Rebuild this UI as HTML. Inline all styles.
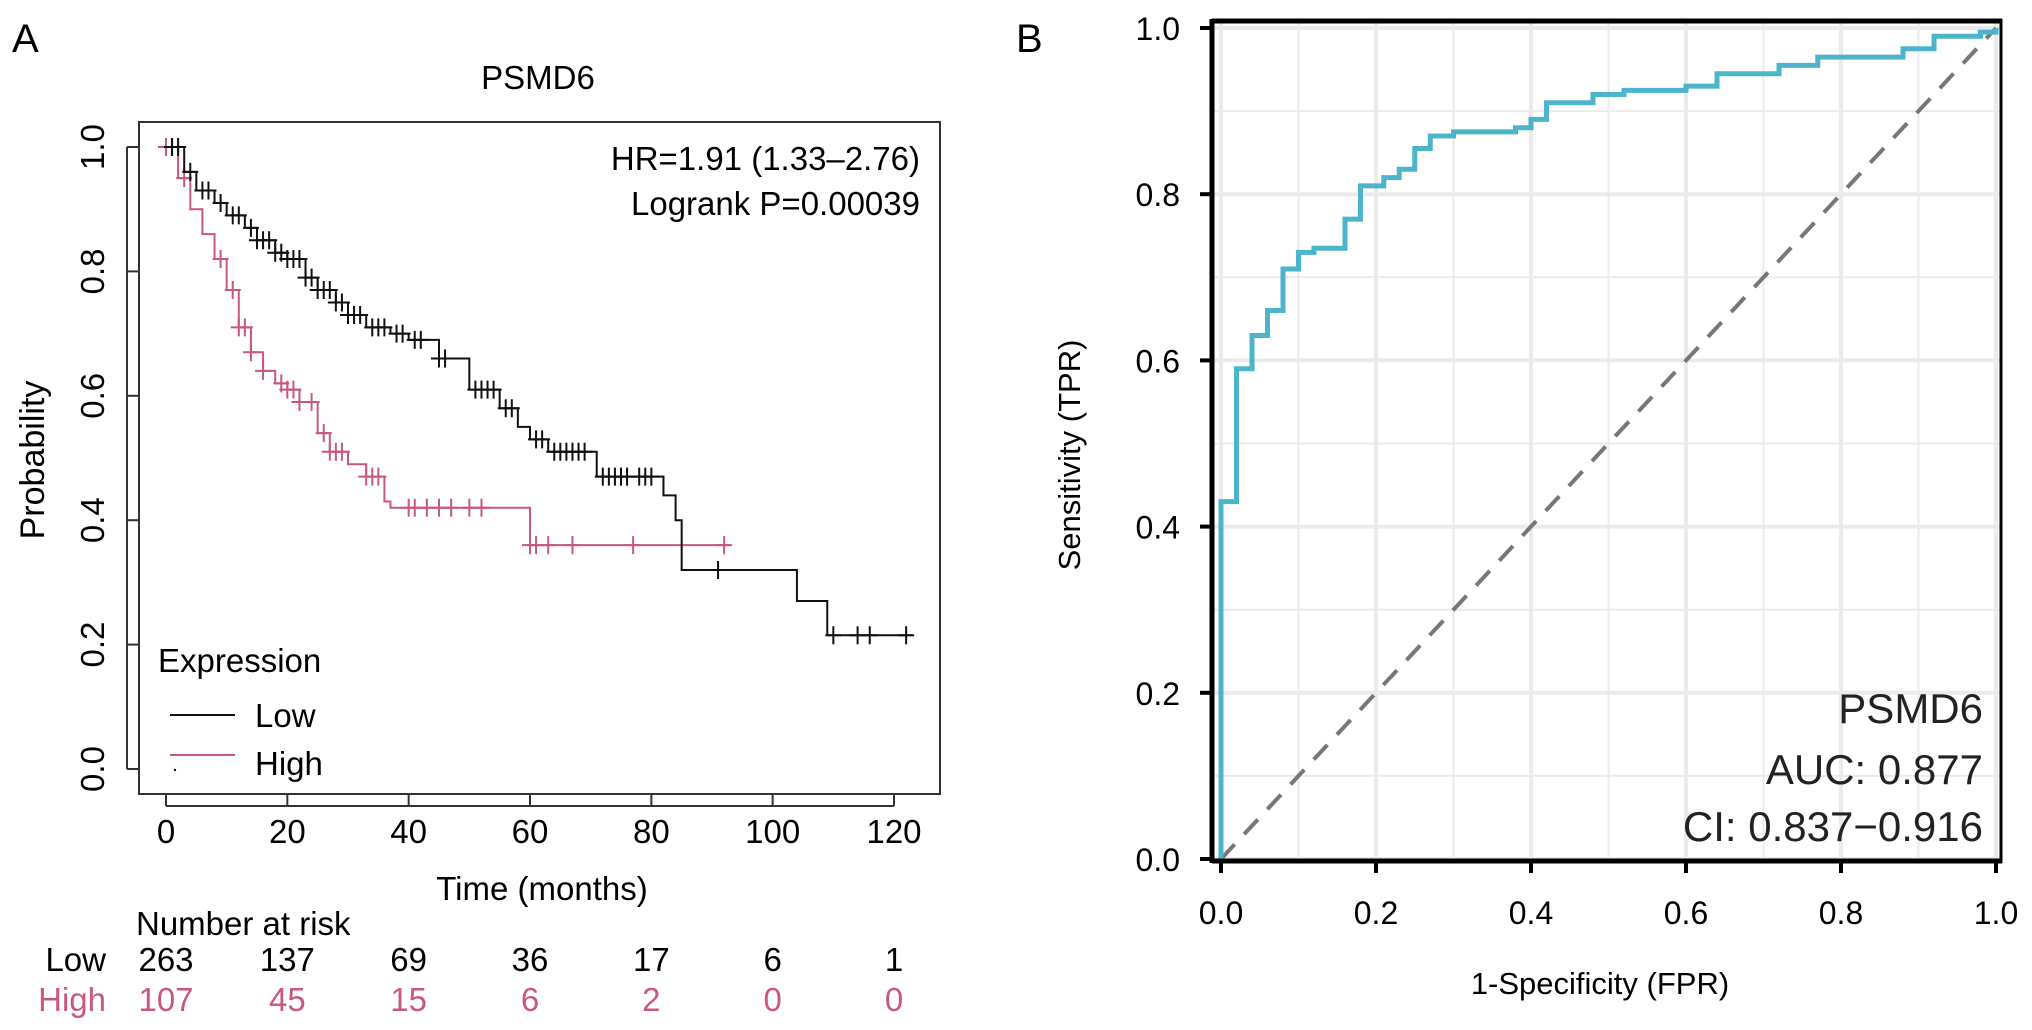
<!DOCTYPE html>
<html><head><meta charset="utf-8"><style>
html,body{margin:0;padding:0;background:#fff}
svg{display:block;font-family:"Liberation Sans",Arial,sans-serif}
</style></head><body>
<svg id="fig" width="2032" height="1030" viewBox="0 0 2032 1030">
<rect x="0" y="0" width="2032" height="1030" fill="#fff"/>
<text x="12" y="52" font-size="40">A</text>
<text x="1016" y="52" font-size="40">B</text>
<g id="ga"></g>
<g id="gb"></g>
</svg>
<script>
// ---- KM data ----
const lowTimes=[0,3,5,8,10,13,15,18,20,23,25,28,30,33,37,40,45,50,55,58,60,63,71,82,84,85,104,109,123];
const lowSurv=[1.0,0.96,0.93,0.91,0.89,0.87,0.85,0.83,0.82,0.79,0.77,0.75,0.73,0.71,0.70,0.69,0.66,0.61,0.58,0.55,0.53,0.51,0.47,0.44,0.40,0.32,0.27,0.215,0.215];
const highTimes=[0,2,4,6,8,10,12,14,16,18,20,22,25,27,30,33,36,37,60,93];
const highSurv=[1.0,0.95,0.90,0.86,0.82,0.77,0.71,0.67,0.64,0.62,0.61,0.59,0.54,0.51,0.49,0.47,0.43,0.42,0.36,0.36];
const lowCensor=[1,2,4,6,7,9,11,12,14,15,16,17,18,19,20,21,22,23,24,25,26,27,28,29,30,31,32,34,35,36,38,39,41,42,45,46,51,52,53,54,56,57,61,62,64,65,66,67,68,69,72,73,74,75,76,78,79,80,91,110,114,116,122];
const highCensor=[0,1,3,9,11,12,13,14,16,19,20,21,22,24,26,27,28,29,33,34,35,40,41,43,45,47,50,52,60,61,63,67,77,92];
const riskTimes=[0,20,40,60,80,100,120];
const riskLow=[263,137,69,36,17,6,1];
const riskHigh=[107,45,15,6,2,0,0];
const kmXTicks=[0,20,40,60,80,100,120];
const kmYTicks=[0,0.2,0.4,0.6,0.8,1.0];
// ---- ROC data ----
const rocFpr=[0,0,0.02,0.04,0.06,0.08,0.10,0.12,0.16,0.18,0.21,0.23,0.25,0.27,0.30,0.38,0.40,0.42,0.48,0.52,0.60,0.64,0.72,0.77,0.88,0.92,0.98,1.0];
const rocTpr=[0,0.43,0.59,0.63,0.66,0.71,0.73,0.735,0.77,0.81,0.82,0.83,0.855,0.87,0.875,0.88,0.89,0.91,0.92,0.925,0.93,0.945,0.955,0.965,0.975,0.99,0.995,1.0];
const rocTicks=[0,0.2,0.4,0.6,0.8,1.0];

const NS="http://www.w3.org/2000/svg";
function mk(tag,attrs,parent,txt){const e=document.createElementNS(NS,tag);for(const k in attrs)e.setAttribute(k,attrs[k]);if(txt!==undefined)e.textContent=txt;parent.appendChild(e);return e;}
const FA=33;

// ===== Panel A =====
const ga=document.getElementById('ga');
const ax=t=>166+t*(894-166)/120;
const ay=p=>769-p*(769-147);
let e;
e=mk('rect',{x:139,y:122,width:801,height:672,fill:'none',stroke:'#333','stroke-width':2},ga);


e=mk('text',{x:538,y:89,'font-size':FA,'text-anchor':'middle'},ga,'PSMD6');


kmXTicks.forEach(t=>{
  mk('line',{x1:ax(t),x2:ax(t),y1:794,y2:806,stroke:'#333','stroke-width':2},ga);
  e=mk('text',{x:ax(t),y:843,'font-size':FA,'text-anchor':'middle'},ga,String(t));
  
  
});
mk('line',{x1:ax(0),x2:ax(120),y1:806,y2:806,stroke:'#333','stroke-width':2},ga);
kmYTicks.forEach(p=>{
  mk('line',{x1:127,x2:139,y1:ay(p),y2:ay(p),stroke:'#333','stroke-width':2},ga);
  e=mk('text',{x:0,y:0,'font-size':FA,'text-anchor':'middle',transform:`translate(104,${ay(p)}) rotate(-90)`},ga,p.toFixed(1));
  
  
});
mk('line',{x1:127,x2:127,y1:ay(0),y2:ay(1),stroke:'#333','stroke-width':2},ga);
e=mk('text',{x:0,y:0,'font-size':34,'text-anchor':'middle',transform:'translate(44,460) rotate(-90)'},ga,'Probability');


e=mk('text',{x:542,y:900,'font-size':FA,'text-anchor':'middle'},ga,'Time (months)');


e=mk('text',{x:920,y:170,'font-size':FA,'text-anchor':'end'},ga,'HR=1.91 (1.33\u20132.76)');


e=mk('text',{x:920,y:215,'font-size':FA,'text-anchor':'end'},ga,'Logrank P=0.00039');



function stepPath(ts,ss){let d=`M${ax(ts[0])},${ay(ss[0])}`;for(let i=1;i<ts.length;i++){d+=` H${ax(ts[i])} V${ay(ss[i])}`;}return d;}
function survAt(ts,ss,t){let s=ss[0];for(let i=0;i<ts.length;i++){if(ts[i]<=t)s=ss[i];}return s;}
function drawKM(ts,ss,cens,col,name){
  const p=mk('path',{d:stepPath(ts,ss),fill:'none',stroke:col,'stroke-width':2},ga);
  
  
  cens.forEach(c=>{
    const x=ax(c),y=ay(survAt(ts,ss,c));
    const m=mk('path',{d:`M${x-8},${y} H${x+8} M${x},${y-9} V${y+9}`,stroke:col,'stroke-width':2},ga);
    
    
  });
}
drawKM(highTimes,highSurv,highCensor,'#c9597a','high');
drawKM(lowTimes,lowSurv,lowCensor,'#111','low');

e=mk('text',{x:158,y:672,'font-size':FA},ga,'Expression');


mk('line',{x1:170,x2:235,y1:715,y2:715,stroke:'#111','stroke-width':2},ga);
e=mk('text',{x:255,y:727,'font-size':FA},ga,'Low');


mk('line',{x1:170,x2:235,y1:755,y2:755,stroke:'#c9597a','stroke-width':2},ga);
mk('circle',{cx:175,cy:770,r:1.2,fill:'#111'},ga);
e=mk('text',{x:255,y:775,'font-size':FA},ga,'High');



e=mk('text',{x:136,y:935,'font-size':FA},ga,'Number at risk');


e=mk('text',{x:106,y:971,'font-size':FA,'text-anchor':'end'},ga,'Low');


e=mk('text',{x:106,y:1011,'font-size':FA,'text-anchor':'end',fill:'#c9597a'},ga,'High');


riskTimes.forEach((t,i)=>{
  let r=mk('text',{x:ax(t),y:971,'font-size':FA,'text-anchor':'middle'},ga,String(riskLow[i]));
  
  
  r=mk('text',{x:ax(t),y:1011,'font-size':FA,'text-anchor':'middle',fill:'#c9597a'},ga,String(riskHigh[i]));
  
  
});

// ===== Panel B =====
const gb=document.getElementById('gb');
const bx=v=>1221+v*(1996-1221);
const by=v=>859-v*(859-28);
for(let i=0;i<=10;i++){
  const v=i/10, major=(i%2===0);
  mk('line',{x1:bx(v),x2:bx(v),y1:20,y2:861,stroke:'#ebebeb','stroke-width':major?4:2},gb);
  mk('line',{x1:1212,x2:2002,y1:by(v),y2:by(v),stroke:'#ebebeb','stroke-width':major?4:2},gb);
}
e=mk('line',{x1:bx(0),y1:by(0),x2:bx(1),y2:by(1),stroke:'#777','stroke-width':4,'stroke-dasharray':'20,14'},gb);


let d=`M${bx(rocFpr[0])},${by(rocTpr[0])}`;
for(let i=1;i<rocFpr.length;i++){d+=` H${bx(rocFpr[i])} V${by(rocTpr[i])}`;}
e=mk('path',{d:d,fill:'none',stroke:'#4cb5cc','stroke-width':5},gb);


mk('line',{x1:1212,x2:2002,y1:21,y2:21,stroke:'#000','stroke-width':5},gb);
mk('line',{x1:1212,x2:2002,y1:861,y2:861,stroke:'#000','stroke-width':5},gb);
mk('line',{x1:1212,x2:1212,y1:19,y2:863,stroke:'#000','stroke-width':5},gb);
mk('line',{x1:2001,x2:2001,y1:19,y2:863,stroke:'#000','stroke-width':3},gb);
rocTicks.forEach(v=>{
  mk('line',{x1:1200,x2:1212,y1:by(v),y2:by(v),stroke:'#000','stroke-width':4},gb);
  let t=mk('text',{x:1180,y:by(v)+12,'font-size':32,'text-anchor':'end'},gb,v.toFixed(1));
  
  
  mk('line',{x1:bx(v),x2:bx(v),y1:861,y2:873,stroke:'#000','stroke-width':4},gb);
  t=mk('text',{x:bx(v),y:924,'font-size':32,'text-anchor':'middle'},gb,v.toFixed(1));
  
  
});
e=mk('text',{x:1600,y:994,'font-size':31,'text-anchor':'middle'},gb,'1-Specificity (FPR)');


e=mk('text',{x:0,y:0,'font-size':31,'text-anchor':'middle',transform:'translate(1080,455) rotate(-90)'},gb,'Sensitivity (TPR)');


e=mk('text',{x:1983,y:723,'font-size':42,'text-anchor':'end',fill:'#222'},gb,'PSMD6');


e=mk('text',{x:1983,y:784,'font-size':42,'text-anchor':'end',fill:'#222'},gb,'AUC: 0.877');


e=mk('text',{x:1983,y:841,'font-size':42,'text-anchor':'end',fill:'#222'},gb,'CI: 0.837\u22120.916');


</script>
</body></html>
